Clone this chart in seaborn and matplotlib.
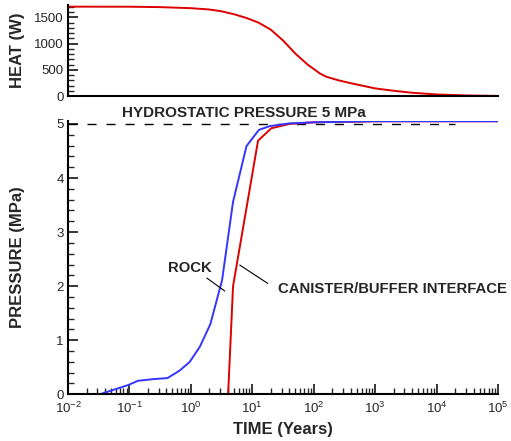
import numpy as np
import pandas as pd
import matplotlib
matplotlib.use("Agg")
import matplotlib.pyplot as plt
import matplotlib.ticker as mticker
import seaborn as sns

# Canister heat output (W) versus time (years)
heat_time = [0.01, 0.1, 0.316, 1.0, 2.0, 3.16, 5.01, 7.94, 12.6, 20.0, 31.6, 50.1,
             79.4, 126, 158, 251, 398, 631, 1000, 2000, 3980, 10000, 31600, 100000]
heat_watts = [1704, 1703, 1695, 1675, 1650, 1615, 1560, 1490, 1400, 1265, 1060, 810,
              600, 430, 370, 300, 245, 195, 145, 100, 62, 30, 10, 2]

# Pore pressure (MPa) in the rock
rock_time = [0.0328, 0.0948, 0.138, 0.242, 0.416, 0.659, 0.96, 1.40, 2.08, 3.22, 4.86, 8.04, 12.8, 19.3, 40, 100, 1000, 100000]
rock_pressure = [0.0, 0.17, 0.25, 0.28, 0.30, 0.44, 0.60, 0.88, 1.30, 2.11, 3.56, 4.59, 4.89, 4.96, 5.01, 5.03, 5.05, 5.05]

# Pressure (MPa) at the canister/buffer interface
interface_time = [4.04, 4.86, 12.4, 20.4, 40, 100, 1000, 100000]
interface_pressure = [0.0, 2.0, 4.69, 4.92, 5.0, 5.03, 5.05, 5.05]

hydrostatic_pressure = 5.0
hydrostatic_span = [0.01, 20000]

# Decades shown on the time axis
decade_exponents = [-2, -1, 0, 1, 2, 3, 4, 5]

RED = "#dc0000"
BLUE = "#3535ff"

sns.set_style("ticks")
plt.rcParams["font.family"] = ["Liberation Sans", "DejaVu Sans"]
plt.rcParams["mathtext.fontset"] = "custom"
plt.rcParams["mathtext.rm"] = "Liberation Sans"
plt.rcParams["mathtext.it"] = "Liberation Sans:italic"
plt.rcParams["mathtext.bf"] = "Liberation Sans:bold"

heat_df = pd.DataFrame({"time": heat_time, "heat": heat_watts})
rock_df = pd.DataFrame({"time": rock_time, "pressure": rock_pressure})
iface_df = pd.DataFrame({"time": interface_time, "pressure": interface_pressure})

major_x = [10.0 ** e for e in decade_exponents]
minor_x = [m * 10.0 ** e for e in decade_exponents[:-1] for m in range(2, 10)]

fig = plt.figure(figsize=(5.11, 4.41), dpi=100)
ax_heat = fig.add_axes([0.1331, 0.7823, 0.8415, 0.2057])
ax_p = fig.add_axes([0.1331, 0.1059, 0.8415, 0.6204])

tick_fs = 9.5
label_fs = 12

for ax in (ax_heat, ax_p):
    ax.set_xscale("log")
    ax.set_xlim(major_x[0], major_x[-1])
    ax.xaxis.set_major_locator(mticker.FixedLocator(major_x))
    ax.xaxis.set_minor_locator(mticker.FixedLocator(minor_x))
    ax.xaxis.set_minor_formatter(mticker.NullFormatter())
    for side in ("top", "right"):
        ax.spines[side].set_visible(False)
    for side in ("left", "bottom"):
        ax.spines[side].set_linewidth(1.5)
        ax.spines[side].set_color("black")

# Heat panel
sns.lineplot(data=heat_df, x="time", y="heat", ax=ax_heat, color=RED,
             linewidth=1.4, sort=False, estimator=None)
ax_heat.set_ylim(0, 1730)
ax_heat.yaxis.set_major_locator(mticker.MultipleLocator(500))
ax_heat.yaxis.set_minor_locator(mticker.MultipleLocator(100))
ax_heat.tick_params(axis="y", which="major", direction="in", length=7, width=1.3,
                    labelsize=tick_fs, pad=3)
ax_heat.tick_params(axis="y", which="minor", direction="in", length=4, width=1.0)
ax_heat.tick_params(axis="x", which="both", bottom=False, labelbottom=False)
ax_heat.set_xlabel("")
ax_heat.set_ylabel("HEAT (W)", fontsize=label_fs, fontweight="bold")

# Pressure panel
ax_p.plot(hydrostatic_span, [hydrostatic_pressure] * 2, color="black",
          linewidth=1.0, dashes=(6.5, 7.2))
sns.lineplot(data=iface_df, x="time", y="pressure", ax=ax_p, color=RED,
             linewidth=1.4, sort=False, estimator=None)
sns.lineplot(data=rock_df, x="time", y="pressure", ax=ax_p, color=BLUE,
             linewidth=1.4, sort=False, estimator=None)
ax_p.set_ylim(0, 5.06)
ax_p.yaxis.set_major_locator(mticker.MultipleLocator(1))
ax_p.yaxis.set_minor_locator(mticker.MultipleLocator(0.2))
ax_p.xaxis.set_major_formatter(mticker.LogFormatterSciNotation())
ax_p.tick_params(which="major", direction="in", length=7, width=1.3,
                 labelsize=tick_fs, pad=3)
ax_p.tick_params(axis="x", which="major", pad=5)
ax_p.tick_params(which="minor", direction="in", length=4, width=1.0)
ax_p.set_xlabel("TIME (Years)", fontsize=label_fs, fontweight="bold", labelpad=4)
ax_p.set_ylabel("PRESSURE (MPa)", fontsize=label_fs, fontweight="bold")

# Curve labels with leader lines
ax_p.text(0.96, 2.34, "ROCK", fontsize=10.7, fontweight="bold", ha="center", va="center")
ax_p.plot([1.82, 3.56], [2.15, 1.91], color="black", linewidth=0.8)
ax_p.text(26, 1.95, "CANISTER/BUFFER INTERFACE", fontsize=10.7, fontweight="bold",
          ha="left", va="center")
ax_p.plot([6.25, 17.9], [2.39, 2.05], color="black", linewidth=0.8)

fig.text(244 / 511, 1 - 113 / 441, "HYDROSTATIC PRESSURE 5 MPa", fontsize=11,
         fontweight="bold", ha="center", va="center")

ax_heat.yaxis.set_label_coords(-0.099, 0.5)
ax_p.yaxis.set_label_coords(-0.099, 0.5)

fig.savefig("out.png", dpi=100)
